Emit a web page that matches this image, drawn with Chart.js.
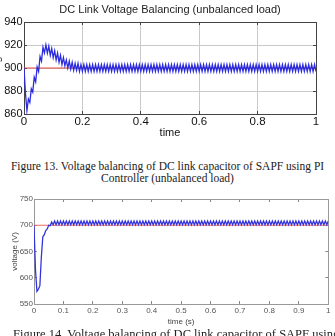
<!DOCTYPE html>
<html><head><meta charset="utf-8">
<script src="https://cdn.jsdelivr.net/npm/chart.js@4/dist/chart.umd.min.js"></script>
<style>
html,body{margin:0;padding:0;background:#fff;width:335px;height:336px;overflow:hidden;position:relative;}
#c1wrap{position:absolute;left:-10px;top:0;width:345px;height:140px;}
#c2wrap{position:absolute;left:0;top:190px;width:335px;height:146px;}
.cap{position:absolute;font-family:'Liberation Serif','Times New Roman',serif;color:#222;white-space:nowrap;}
#cap1{left:0;top:161px;width:335px;text-align:center;font-size:11.5px;line-height:11.5px;}
#cap2{left:13px;top:328px;font-size:12.5px;line-height:12px;}
</style></head><body>
<div id="c1wrap"><canvas id="c1"></canvas></div>
<div class="cap" id="cap1">Figure 13. Voltage balancing of DC link capacitor of SAPF using PI<br>Controller (unbalanced load)</div>
<div id="c2wrap"><canvas id="c2"></canvas></div>
<div class="cap" id="cap2">Figure 14. Voltage balancing of DC link capacitor of SAPF using fuzzy</div>
<script>
// sample times (s)
const times = [
0,0.005,0.01,0.015,0.02,0.025,0.03,0.035,0.04,0.045,0.05,0.055,0.06,0.065,0.07,0.075,0.08,0.085,0.09,0.095,
0.1,0.105,0.11,0.115,0.12,0.125,0.13,0.135,0.14,0.145,0.15,0.155,0.16,0.165,0.17,0.175,0.18,0.185,0.19,0.195,
0.2,0.205,0.21,0.215,0.22,0.225,0.23,0.235,0.24,0.245,0.25,0.255,0.26,0.265,0.27,0.275,0.28,0.285,0.29,0.295,
0.3,0.305,0.31,0.315,0.32,0.325,0.33,0.335,0.34,0.345,0.35,0.355,0.36,0.365,0.37,0.375,0.38,0.385,0.39,0.395,
0.4,0.405,0.41,0.415,0.42,0.425,0.43,0.435,0.44,0.445,0.45,0.455,0.46,0.465,0.47,0.475,0.48,0.485,0.49,0.495,
0.5,0.505,0.51,0.515,0.52,0.525,0.53,0.535,0.54,0.545,0.55,0.555,0.56,0.565,0.57,0.575,0.58,0.585,0.59,0.595,
0.6,0.605,0.61,0.615,0.62,0.625,0.63,0.635,0.64,0.645,0.65,0.655,0.66,0.665,0.67,0.675,0.68,0.685,0.69,0.695,
0.7,0.705,0.71,0.715,0.72,0.725,0.73,0.735,0.74,0.745,0.75,0.755,0.76,0.765,0.77,0.775,0.78,0.785,0.79,0.795,
0.8,0.805,0.81,0.815,0.82,0.825,0.83,0.835,0.84,0.845,0.85,0.855,0.86,0.865,0.87,0.875,0.88,0.885,0.89,0.895,
0.9,0.905,0.91,0.915,0.92,0.925,0.93,0.935,0.94,0.945,0.95,0.955,0.96,0.965,0.97,0.975,0.98,0.985,0.99,0.995,
1];
// Fig 13: DC link voltage (PI, unbalanced load)
const vdcPI = [
900,878,863,873,870,882,879,892,888,901,897,910,906,918,913,920,913,919,911,917,
909,915,907,913,905,911,903,909,902,907,900,906,899,905,898,904,898,904,897,903,
897,903,897,903,897,903,897,903,897,903,897,903,897,903,897,903,897,903,897,903,
897,903,897,903,897,903,897,903,897,903,897,903,897,903,897,903,897,903,897,903,
897,903,897,903,897,903,897,903,897,903,897,903,897,903,897,903,897,903,897,903,
897,903,897,903,897,903,897,903,897,903,897,903,897,903,897,903,897,903,897,903,
897,903,897,903,897,903,897,903,897,903,897,903,897,903,897,903,897,903,897,903,
897,903,897,903,897,903,897,903,897,903,897,903,897,903,897,903,897,903,897,903,
897,903,897,903,897,903,897,903,897,903,897,903,897,903,897,903,897,903,897,903,
897,903,897,903,897,903,897,903,897,903,897,903,897,903,897,903,897,903,897,903,
897];
const refPI = [900, 900];
const refPITimes = [0, 1];
// Fig 14: DC link voltage
const vdc2 = [
700,615,574,578,585,640,678,682,690,693,700,699,706,701,708,701,708,701,708,701,
708,701,708,701,708,701,708,701,708,701,708,701,708,701,708,701,708,701,708,701,
708,701,708,701,708,701,708,701,708,701,708,701,708,701,708,701,708,701,708,701,
708,701,708,701,708,701,708,701,708,701,708,701,708,701,708,701,708,701,708,701,
708,701,708,701,708,701,708,701,708,701,708,701,708,701,708,701,708,701,708,701,
708,701,708,701,708,701,708,701,708,701,708,701,708,701,708,701,708,701,708,701,
708,701,708,701,708,701,708,701,708,701,708,701,708,701,708,701,708,701,708,701,
708,701,708,701,708,701,708,701,708,701,708,701,708,701,708,701,708,701,708,701,
708,701,708,701,708,701,708,701,708,701,708,701,708,701,708,701,708,701,708,701,
708,701,708,701,708,701,708,701,708,701,708,701,708,701,708,701,708,701,708,701,
708];
const ref2 = [700, 700];
const ref2Times = [0, 1];
const xTicks1 = {min:0, max:1, step:0.2};
const yTicks1 = {min:860, max:940, step:20};
const xTicks2 = {min:0, max:1, step:0.1};
const yTicks2 = {min:550, max:750, step:50};

const pts = (xs, ys) => xs.map((x, i) => ({x, y: ys[i]}));
const SANS = "'Liberation Sans', Arial, sans-serif";
const fmt = v => String(Number(Number(v).toFixed(3)));

function fixW(w){return s=>{s.width=w;};}
function fixH(h){return s=>{s.height=h;};}

new Chart(document.getElementById('c1'), {
  type: 'line',
  data: { datasets: [
    {data: pts(times, vdcPI), borderColor:'#2b2be0', borderWidth:1.3, pointRadius:0, tension:0, xAxisID:'x', yAxisID:'y'},
    {data: pts(refPITimes, refPI), borderColor:'#e84a3e', borderWidth:1, pointRadius:0, xAxisID:'x', yAxisID:'y'}
  ]},
  options: {
    responsive:true, maintainAspectRatio:false, animation:false, events:[],
    layout:{padding:{left:0,right:19,top:0,bottom:0}},
    plugins:{legend:{display:false}, tooltip:{enabled:false}, title:{display:false}},
    scales:{
      x:{type:'linear', position:'bottom', min:xTicks1.min, max:xTicks1.max,
        ticks:{stepSize:xTicks1.step, color:'#111', font:{family:SANS,size:11.5}, padding:4.4, maxRotation:0, callback:fmt},
        grid:{color:'#c9c9c9', borderDash:[1,2], tickLength:-3, tickColor:'#444', tickBorderDash:[]},
        border:{display:true, color:'#444', width:1},
        title:{display:true, text:'time', color:'#111', font:{family:SANS,size:11}, padding:{top:0,bottom:0}},
        afterFit:fixH(26)},
      y:{type:'linear', position:'left', min:yTicks1.min, max:yTicks1.max,
        ticks:{stepSize:yTicks1.step, color:'#111', font:{family:SANS,size:11}, padding:4.5, callback:fmt},
        grid:{color:'#c9c9c9', borderDash:[1,2], tickLength:-3, tickColor:'#444', tickBorderDash:[]},
        border:{display:true, color:'#444', width:1},
        title:{display:true, text:'voltage', color:'#111', font:{family:SANS,size:11}, padding:{top:0,bottom:0}},
        afterFit:fixW(34)},
      x2:{type:'linear', position:'top', min:xTicks1.min, max:xTicks1.max,
        ticks:{stepSize:xTicks1.step, display:false},
        grid:{drawOnChartArea:false, tickLength:-3, color:'#444'},
        border:{display:true, color:'#444', width:1},
        title:{display:true, text:'DC Link Voltage Balancing (unbalanced load)', color:'#222',
          font:{family:SANS,size:11}, padding:{top:3.5,bottom:0}},
        afterFit:fixH(22)},
      y2:{type:'linear', position:'right', min:yTicks1.min, max:yTicks1.max,
        ticks:{stepSize:yTicks1.step, display:false},
        grid:{drawOnChartArea:false, tickLength:-3, color:'#444'},
        border:{display:true, color:'#444', width:1}, afterFit:fixW(0)}
    }
  }
});

new Chart(document.getElementById('c2'), {
  type: 'line',
  data: { datasets: [
    {data: pts(times, vdc2), borderColor:'#3434dc', borderWidth:1.3, pointRadius:0, tension:0, xAxisID:'x', yAxisID:'y'},
    {data: pts(ref2Times, ref2), borderColor:'#ee6a5e', borderWidth:1, pointRadius:0, xAxisID:'x', yAxisID:'y'}
  ]},
  options: {
    responsive:true, maintainAspectRatio:false, animation:false, events:[],
    layout:{padding:{left:0,right:2,top:9,bottom:0}},
    plugins:{legend:{display:false}, tooltip:{enabled:false}},
    scales:{
      x:{type:'linear', position:'bottom', min:xTicks2.min, max:xTicks2.max,
        ticks:{stepSize:xTicks2.step, color:'#555', font:{family:SANS,size:8}, padding:4.5, maxRotation:0, autoSkip:false, callback:fmt},
        grid:{drawOnChartArea:false, tickLength:-3, color:'#888'},
        border:{display:true, color:'#999', width:1},
        title:{display:true, text:'time (s)', color:'#444', font:{family:SANS,size:8}, padding:{top:0,bottom:9.5}},
        afterFit:fixH(32)},
      y:{type:'linear', position:'left', min:yTicks2.min, max:yTicks2.max,
        ticks:{stepSize:yTicks2.step, color:'#555', font:{family:SANS,size:8}, padding:4, callback:fmt},
        grid:{drawOnChartArea:false, tickLength:-3, color:'#888'},
        border:{display:true, color:'#999', width:1},
        title:{display:true, text:'voltage (V)', color:'#444', font:{family:SANS,size:8}, padding:{top:10,bottom:0}},
        afterFit:fixW(34)},
      x2:{type:'linear', position:'top', min:xTicks2.min, max:xTicks2.max,
        ticks:{stepSize:xTicks2.step, display:false},
        grid:{drawOnChartArea:false, tickLength:-3, color:'#888'},
        border:{display:true, color:'#999', width:1}, afterFit:fixH(0)},
      y2:{type:'linear', position:'right', min:yTicks2.min, max:yTicks2.max,
        ticks:{stepSize:yTicks2.step, display:false},
        grid:{drawOnChartArea:false, tickLength:-3, color:'#888'},
        border:{display:true, color:'#999', width:1}, afterFit:fixW(0)}
    }
  }
});
</script>
</body></html>
